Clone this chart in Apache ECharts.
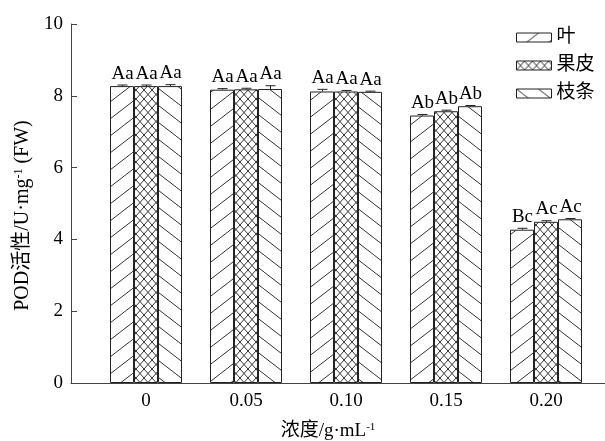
<!DOCTYPE html>
<html>
<head>
<meta charset="utf-8">
<script src="https://cdn.jsdelivr.net/npm/echarts@6/dist/echarts.min.js"></script>
<style>
  html, body { margin: 0; padding: 0; background: #fff; }
  #chart { width: 605px; height: 441px; }
</style>
</head>
<body>
<div id="chart"></div>
<script>
// Concentration levels (g·mL-1)
const categories = ['0', '0.05', '0.10', '0.15', '0.20'];

// POD activity, U·mg-1 (FW)
const leafValues = [8.27, 8.17, 8.12, 7.45, 4.27];
const peelValues = [8.27, 8.18, 8.12, 7.57, 4.49];
const twigValues = [8.27, 8.19, 8.11, 7.71, 4.56];

// Standard errors
const leafErrors = [0.03, 0.03, 0.06, 0.03, 0.04];
const peelErrors = [0.03, 0.03, 0.03, 0.03, 0.03];
const twigErrors = [0.04, 0.09, 0.02, 0.02, 0.02];

// Significance letters
const leafLetters = ['Aa', 'Aa', 'Aa', 'Ab', 'Bc'];
const peelLetters = ['Aa', 'Aa', 'Aa', 'Ab', 'Ac'];
const twigLetters = ['Aa', 'Aa', 'Aa', 'Ab', 'Ac'];

const seriesNames = ['叶', '果皮', '枝条'];
const yTicks = { min: 0, max: 10, interval: 2 };

const SERIF = '"Liberation Serif", "Times New Roman", "Noto Sans CJK SC", serif';
const INK = '#222';

// Hatch fills drawn onto small repeating canvases
function makeHatch(kind) {
  const c = document.createElement('canvas');
  let w, h;
  if (kind === 'cross') { w = 8; h = 9; } else { w = 22; h = 17; }
  c.width = w; c.height = h;
  const g = c.getContext('2d');
  g.fillStyle = '#fff';
  g.fillRect(0, 0, w, h);
  g.strokeStyle = '#333';
  g.lineWidth = 1;
  g.beginPath();
  for (const dx of [-w, 0, w]) {
    if (kind === 'fwd' || kind === 'cross') {
      g.moveTo(dx, h); g.lineTo(dx + w, 0);
    }
    if (kind === 'back' || kind === 'cross') {
      g.moveTo(dx, 0); g.lineTo(dx + w, h);
    }
  }
  g.stroke();
  return { image: c, repeat: 'repeat' };
}

const fills = [makeHatch('fwd'), makeHatch('cross'), makeHatch('back')];
const valueSets = [leafValues, peelValues, twigValues];
const errorSets = [leafErrors, peelErrors, twigErrors];
const letterSets = [leafLetters, peelLetters, twigLetters];

const GROUP_FRACTION = 0.72;

const barSeries = seriesNames.map((name, k) => ({
  name: name,
  type: 'bar',
  xAxisIndex: 0,
  yAxisIndex: 0,
  barGap: '0%',
  barCategoryGap: '28%',
  data: valueSets[k],
  itemStyle: { color: fills[k], borderColor: INK, borderWidth: 1 },
  emphasis: { disabled: true },
  z: 2
}));

// Error bars with significance letters above each bar
const errorSeries = seriesNames.map((name, k) => ({
  type: 'custom',
  xAxisIndex: 0,
  yAxisIndex: 0,
  z: 3,
  silent: true,
  data: categories.map((_, i) => [i, valueSets[k][i], errorSets[k][i]]),
  encode: { x: 0, y: 1 },
  renderItem: function (params, api) {
    const i = api.value(0);
    const v = api.value(1);
    const e = api.value(2);
    const band = api.size([1, 0])[0];
    const bw = band * GROUP_FRACTION / 3;
    const base = api.coord([i, v]);
    const x = Math.round(base[0] + (k - 1) * bw) + 0.5;
    const top = api.coord([i, v + e])[1];
    return {
      type: 'group',
      children: [
        { type: 'line', shape: { x1: x, y1: base[1], x2: x, y2: top }, style: { stroke: INK, lineWidth: 1 } },
        { type: 'line', shape: { x1: x - 5, y1: top, x2: x + 5, y2: top }, style: { stroke: INK, lineWidth: 1 } },
        {
          type: 'text',
          style: {
            text: letterSets[k][params.dataIndex],
            x: x, y: top - 2,
            align: 'center', verticalAlign: 'bottom',
            fontSize: 19, fontFamily: SERIF, fill: '#000'
          }
        }
      ]
    };
  }
}));

const chart = echarts.init(document.getElementById('chart'), null, { renderer: 'canvas' });

chart.setOption({
  animation: false,
  backgroundColor: '#fff',
  grid: [
    { left: 96, right: 9, top: 24, bottom: 58, containLabel: false, outerBoundsMode: 'none' },
    { left: 71, right: 0, top: 24, bottom: 58, containLabel: false, outerBoundsMode: 'none' }
  ],
  legend: {
    data: seriesNames,
    orient: 'vertical',
    left: 511,
    top: 23,
    itemWidth: 35,
    itemHeight: 9,
    itemGap: 9,
    icon: 'rect',
    selectedMode: false,
    itemStyle: { borderColor: INK, borderWidth: 1 },
    textStyle: { fontSize: 19, fontFamily: SERIF, color: '#000' }
  },
  xAxis: [
    {
      type: 'category',
      gridIndex: 0,
      data: categories,
      axisLine: { show: false },
      axisTick: { show: false },
      axisLabel: { fontSize: 19, fontFamily: SERIF, color: '#000', margin: 9 }
    },
    {
      type: 'value',
      gridIndex: 1,
      min: 0, max: 1,
      axisLine: { show: true, lineStyle: { color: '#444', width: 1 } },
      axisTick: { show: false },
      axisLabel: { show: false },
      splitLine: { show: false },
      name: '浓度/g·mL{sup|-1}',
      nameLocation: 'middle',
      nameGap: 39,
      nameTextStyle: {
        fontSize: 19, fontFamily: SERIF, color: '#000',
        padding: [0, 20, 0, 0],
        rich: { sup: { fontSize: 11, fontFamily: SERIF, color: '#000', verticalAlign: 'top', lineHeight: 19 } }
      }
    }
  ],
  yAxis: [
    {
      type: 'value',
      gridIndex: 0,
      min: yTicks.min, max: yTicks.max, interval: yTicks.interval,
      show: false
    },
    {
      type: 'value',
      gridIndex: 1,
      min: yTicks.min, max: yTicks.max, interval: yTicks.interval,
      axisLine: { show: true, lineStyle: { color: '#444', width: 1 } },
      axisTick: { show: true, inside: true, length: 6, lineStyle: { color: '#444' } },
      axisLabel: { fontSize: 19, fontFamily: SERIF, color: '#000', margin: 8 },
      splitLine: { show: false },
      name: 'POD活性/U·mg{sup|-1} (FW)',
      nameLocation: 'middle',
      nameGap: 36,
      nameTextStyle: {
        fontSize: 20, fontFamily: SERIF, color: '#000',
        padding: [0, 24, 0, 0],
        rich: { sup: { fontSize: 12, fontFamily: SERIF, color: '#000', verticalAlign: 'top', lineHeight: 20 } }
      }
    }
  ],
  series: barSeries.concat(errorSeries)
});
</script>
</body>
</html>
